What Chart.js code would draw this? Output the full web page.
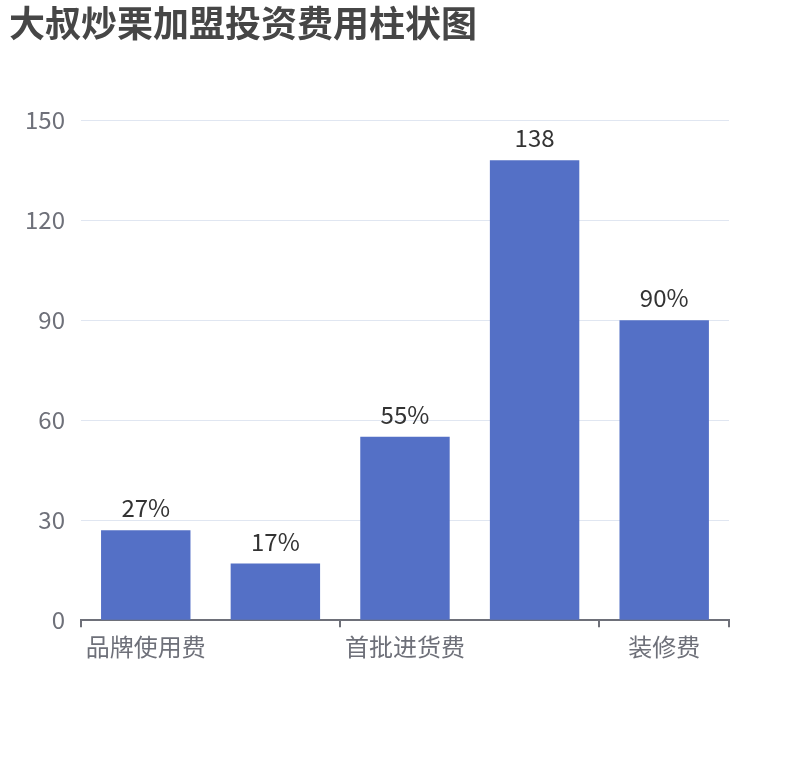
<!DOCTYPE html>
<html>
<head>
<meta charset="utf-8">
<script src="https://cdn.jsdelivr.net/npm/chart.js@4.4.1/dist/chart.umd.min.js"></script>
<style>
  html, body { margin: 0; padding: 0; background: #fff; }
  #wrap { width: 810px; height: 760px; }
</style>
</head>
<body>
<div id="wrap"><canvas id="bar-chart"></canvas></div>
<script>
// chart data
var categories = ['品牌使用费', '加盟费', '首批进货费', '设备费', '装修费'];
var values = [27, 17, 55, 138, 90];
var valueLabels = ['27%', '17%', '55%', '138', '90%'];
var yTicks = [0, 30, 60, 90, 120, 150];

var FONT = '"Noto Sans CJK SC", "Noto Sans", sans-serif';

// draws the text above every bar
var barLabels = {
    id: 'barLabels',
    afterDatasetsDraw: function(chart) {
        var ctx = chart.ctx;
        var meta = chart.getDatasetMeta(0);
        ctx.save();
        ctx.font = '24px ' + FONT;
        ctx.fillStyle = '#333333';
        ctx.textAlign = 'center';
        ctx.textBaseline = 'alphabetic';
        meta.data.forEach(function(bar, i) {
            ctx.fillText(valueLabels[i], bar.x, bar.y - 13);
        });
        ctx.restore();
    }
};

document.addEventListener("DOMContentLoaded", function() {
    var ctx = document.getElementById('bar-chart').getContext('2d');

    new Chart(ctx, {
        type: 'bar',
        data: {
            labels: categories,
            datasets: [{
                data: values,
                backgroundColor: '#5470c6',
                categoryPercentage: 1,
                barPercentage: 0.69
            }]
        },
        options: {
            responsive: true,
            maintainAspectRatio: false,
            animation: false,
            layout: {
                padding: { left: 9, right: 81, top: 0, bottom: 94 }
            },
            plugins: {
                legend: { display: false },
                tooltip: { enabled: false },
                title: {
                    display: true,
                    text: '大叔炒栗加盟投资费用柱状图',
                    align: 'start',
                    color: '#464646',
                    font: { family: FONT, size: 36, weight: 'bold' },
                    padding: { top: 2, bottom: 75 }
                }
            },
            scales: {
                x: {
                    offset: true,
                    grid: {
                        offset: true,
                        drawOnChartArea: false,
                        drawTicks: true,
                        tickLength: 7,
                        lineWidth: 2,
                        color: function(c) {
                            return (c.index === undefined || c.index % 2 === 0) ? '#6e7079' : 'rgba(0,0,0,0)';
                        }
                    },
                    border: { display: true, color: '#6e7079', width: 2 },
                    ticks: {
                        autoSkip: false,
                        maxRotation: 0,
                        padding: 5,
                        color: '#6e7079',
                        font: { family: FONT, size: 24 },
                        callback: function(val, i) {
                            return i % 2 === 0 ? categories[i] : '';
                        }
                    }
                },
                y: {
                    min: yTicks[0],
                    max: yTicks[yTicks.length - 1],
                    afterBuildTicks: function(axis) {
                        axis.ticks = yTicks.map(function(v) { return { value: v }; });
                    },
                    border: { display: false },
                    grid: {
                        color: '#e0e6f1',
                        lineWidth: 1,
                        drawTicks: false
                    },
                    ticks: {
                        padding: 16,
                        color: '#6e7079',
                        font: { family: FONT, size: 24 }
                    }
                }
            }
        },
        plugins: [barLabels]
    });
});
</script>
</body>
</html>
